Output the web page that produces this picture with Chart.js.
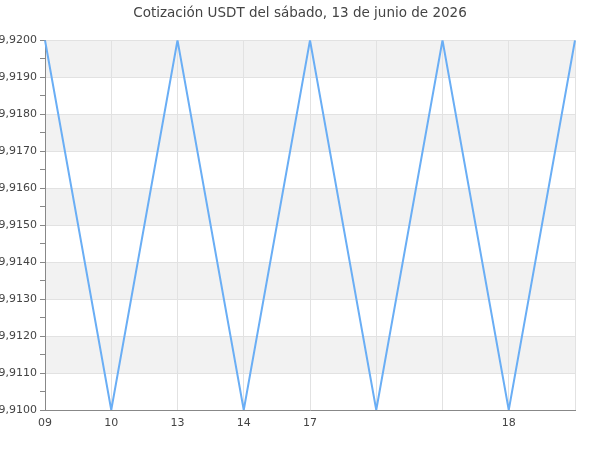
<!DOCTYPE html>
<html><head><meta charset="utf-8">
<script src="https://cdn.jsdelivr.net/npm/chart.js@4/dist/chart.umd.min.js"></script>
<style>html,body{margin:0;padding:0;background:#fff}#wrap{width:600px;height:450px}</style>
</head><body><div id="wrap"><canvas id="c"></canvas></div>
<script>
const titleText = "Cotización USDT del sábado, 13 de junio de 2026";
const labels = ["09","10","13","14","17","","","18",""];
const values = [9.9200,9.9100,9.9200,9.9100,9.9200,9.9100,9.9200,9.9100,9.9200];
const yMin = 9.9100, yMax = 9.9200, yStep = 0.0005;

const bands = {
  id:'bands',
  beforeDraw(chart){
    const {ctx, chartArea:a, scales:{y}} = chart;
    ctx.save();
    ctx.fillStyle = '#f2f2f2';
    for (let i=0;i<10;i++){
      if (i%2===1){
        const lo = yMin + i*0.001, hi = lo+0.001;
        const y1 = y.getPixelForValue(hi), y2 = y.getPixelForValue(lo);
        ctx.fillRect(a.left, y1, a.right-a.left, y2-y1);
      }
    }
    ctx.restore();
  }
};
const isMajor = v => Math.abs(Math.round(v*1000)-v*1000) < 1e-6;

new Chart(document.getElementById('c'), {
  type:'line',
  data:{labels, datasets:[{data:values, borderColor:'#6aaef5', borderWidth:2, pointRadius:0, tension:0, fill:false}]},
  options:{
    responsive:true, maintainAspectRatio:false, animation:false,
    layout:{padding:0},
    plugins:{
      legend:{display:false}, tooltip:{enabled:false},
      title:{display:true, text:titleText, color:'#444', font:{family:'DejaVu Sans', size:13.5, weight:'normal'}, padding:{top:5,bottom:19}}
    },
    scales:{
      x:{
        grid:{color:'#e2e2e2', drawTicks:false, offset:false},
        border:{color:'#888', width:1},
        ticks:{color:'#444', font:{family:'DejaVu Sans', size:11}, padding:7, autoSkip:false, maxRotation:0},
        afterFit(s){ s.height = 40; }
      },
      y:{
        min:yMin, max:yMax,
        grid:{color:ctx => isMajor(ctx.tick.value) ? '#e2e2e2' : 'rgba(0,0,0,0)', tickColor:'#888', tickLength:5},
        border:{color:'#888', width:1},
        ticks:{stepSize:yStep, color:'#444', font:{family:'DejaVu Sans', size:11}, padding:3,
          callback:v => isMajor(v) ? v.toFixed(4).replace('.',',') : ''},
        afterFit(s){ s.width = 45; }
      },
      yr:{
        position:'right', min:yMin, max:yMax,
        grid:{display:false}, border:{display:false}, ticks:{display:false},
        afterFit(s){ s.width = 25; }
      }
    }
  },
  plugins:[bands]
});
</script></body></html>
